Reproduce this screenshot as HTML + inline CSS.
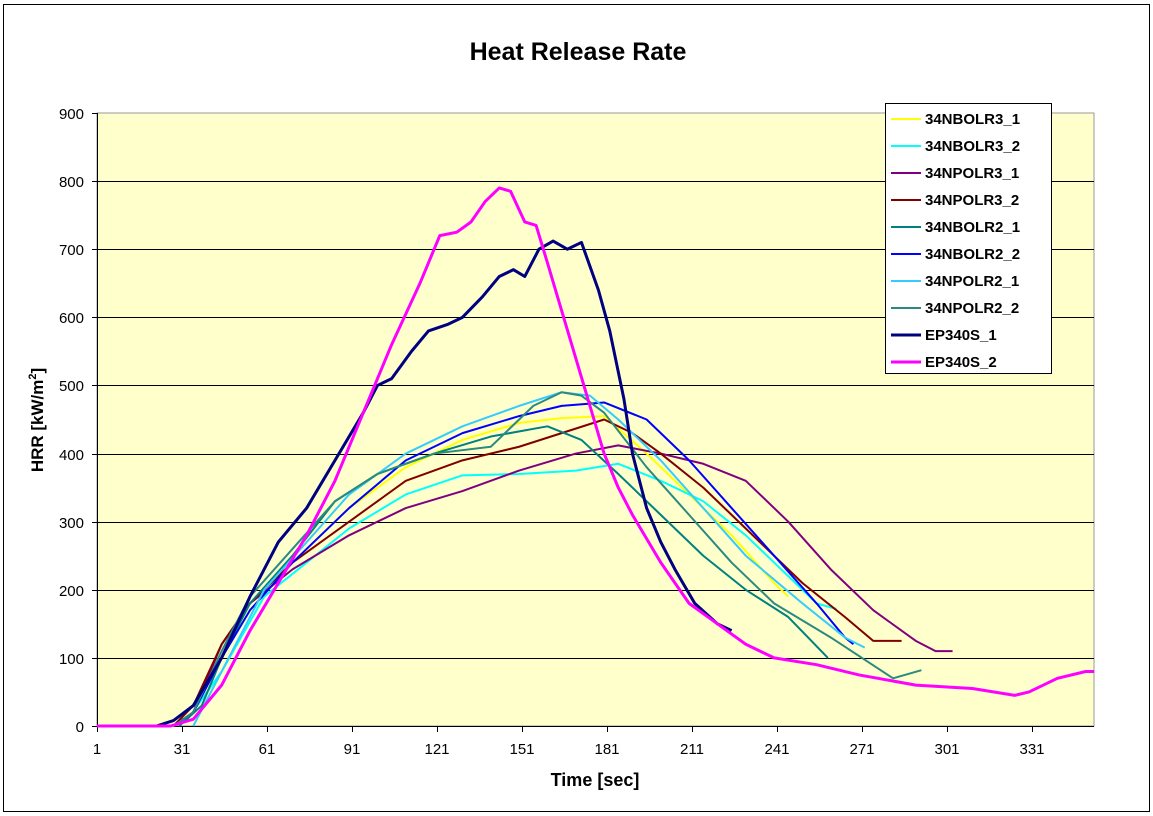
<!DOCTYPE html>
<html><head><style>
body{margin:0;background:#fff;}
svg{display:block;font-family:"Liberation Sans",Arial,sans-serif;}
</style></head><body>
<svg width="1153" height="816" viewBox="0 0 1153 816">
<rect x="0" y="0" width="1153" height="816" fill="#fff"/>
<rect x="3.5" y="4.5" width="1146" height="807" fill="#fff" stroke="#000" stroke-width="1"/>
<text x="578" y="60" text-anchor="middle" font-size="25" font-weight="bold">Heat Release Rate</text>
<rect x="97" y="113" width="997" height="613" fill="#ffffcc" stroke="#999" stroke-width="1"/>
<g stroke="#000" stroke-width="1">
<line x1="97" y1="181.5" x2="1094" y2="181.5"/><line x1="97" y1="249.5" x2="1094" y2="249.5"/>
<line x1="97" y1="317.5" x2="1094" y2="317.5"/><line x1="97" y1="385.5" x2="1094" y2="385.5"/>
<line x1="97" y1="454.5" x2="1094" y2="454.5"/><line x1="97" y1="522.5" x2="1094" y2="522.5"/>
<line x1="97" y1="590.5" x2="1094" y2="590.5"/><line x1="97" y1="658.5" x2="1094" y2="658.5"/>
<line x1="97.5" y1="113" x2="97.5" y2="726"/><line x1="97" y1="726.5" x2="1094" y2="726.5"/>
</g>
<g stroke="#000" stroke-width="1">
<line x1="92" y1="113.5" x2="97" y2="113.5"/><line x1="92" y1="181.5" x2="97" y2="181.5"/><line x1="92" y1="249.5" x2="97" y2="249.5"/><line x1="92" y1="317.5" x2="97" y2="317.5"/><line x1="92" y1="385.5" x2="97" y2="385.5"/><line x1="92" y1="454.5" x2="97" y2="454.5"/><line x1="92" y1="522.5" x2="97" y2="522.5"/><line x1="92" y1="590.5" x2="97" y2="590.5"/><line x1="92" y1="658.5" x2="97" y2="658.5"/><line x1="92" y1="726.5" x2="97" y2="726.5"/>
<line x1="97.5" y1="726" x2="97.5" y2="732"/><line x1="182.5" y1="726" x2="182.5" y2="732"/><line x1="267.5" y1="726" x2="267.5" y2="732"/><line x1="352.5" y1="726" x2="352.5" y2="732"/><line x1="437.5" y1="726" x2="437.5" y2="732"/><line x1="522.5" y1="726" x2="522.5" y2="732"/><line x1="607.5" y1="726" x2="607.5" y2="732"/><line x1="692.5" y1="726" x2="692.5" y2="732"/><line x1="777.5" y1="726" x2="777.5" y2="732"/><line x1="862.5" y1="726" x2="862.5" y2="732"/><line x1="947.5" y1="726" x2="947.5" y2="732"/><line x1="1032.5" y1="726" x2="1032.5" y2="732"/>
</g>
<g font-size="15" text-anchor="end">
<text x="84" y="119">900</text><text x="84" y="187">800</text><text x="84" y="255">700</text><text x="84" y="323">600</text><text x="84" y="391">500</text><text x="84" y="460">400</text><text x="84" y="528">300</text><text x="84" y="596">200</text><text x="84" y="664">100</text><text x="84" y="732">0</text>
</g>
<g font-size="15" text-anchor="middle">
<text x="97" y="754">1</text><text x="182" y="754">31</text><text x="267" y="754">61</text><text x="352" y="754">91</text><text x="437" y="754">121</text><text x="522" y="754">151</text><text x="607" y="754">181</text><text x="692" y="754">211</text><text x="777" y="754">241</text><text x="862" y="754">271</text><text x="947" y="754">301</text><text x="1032" y="754">331</text>
</g>
<text x="595" y="786" text-anchor="middle" font-size="18" font-weight="bold">Time [sec]</text>
<text transform="translate(43,420) rotate(-90)" text-anchor="middle" font-size="17" font-weight="bold">HRR [kW/m<tspan font-size="11" dy="-7">2</tspan><tspan dy="7">]</tspan></text>
<g transform="translate(94.167,726) scale(2.833,-0.6811)" fill="none" stroke-linejoin="round">
<polyline vector-effect="non-scaling-stroke" stroke="#ffff00" stroke-width="2" points="1,0 28,0 35,20 45,100 55,170 70,240 90,320 110,380 130,420 150,445 165,452 180,455 195,400 210,340 225,280 240,210 245,190"/>
<polyline vector-effect="non-scaling-stroke" stroke="#00ffff" stroke-width="2" points="1,0 28,0 33,10 45,80 60,190 75,240 90,290 110,340 130,368 150,370 170,375 185,385 200,360 215,330 230,280 245,220 255,180 262,172"/>
<polyline vector-effect="non-scaling-stroke" stroke="#800080" stroke-width="2" points="28,0 35,20 45,120 55,180 70,230 90,280 110,320 130,345 150,375 170,400 185,412 200,400 215,385 230,360 245,300 260,230 275,170 290,125 297,110 303,110"/>
<polyline vector-effect="non-scaling-stroke" stroke="#800000" stroke-width="2" points="28,0 35,30 45,120 55,180 70,240 90,300 110,360 130,390 150,410 165,430 180,450 190,430 200,400 215,350 230,290 250,210 265,160 275,125 285,125"/>
<polyline vector-effect="non-scaling-stroke" stroke="#008080" stroke-width="2" points="30,0 38,30 45,100 55,180 70,250 85,330 100,370 120,400 140,425 160,440 172,420 185,370 200,310 215,250 230,200 245,160 259,100"/>
<polyline vector-effect="non-scaling-stroke" stroke="#0000ff" stroke-width="2" points="28,0 35,20 45,100 55,170 70,240 90,320 110,390 130,430 150,455 165,470 180,475 195,450 210,390 225,320 240,250 255,180 265,130 268,120"/>
<polyline vector-effect="non-scaling-stroke" stroke="#33ccff" stroke-width="2" points="35,0 45,80 60,200 75,270 90,340 110,400 130,440 150,470 165,490 175,485 185,450 200,390 215,320 230,250 250,180 265,130 272,115"/>
<polyline vector-effect="non-scaling-stroke" stroke="#2a8a80" stroke-width="2" points="28,0 35,20 45,110 55,190 70,260 85,330 100,370 120,400 140,410 155,470 165,490 172,485 180,460 195,380 210,310 225,240 240,180 260,130 282,70 292,82"/>
<polyline vector-effect="non-scaling-stroke" stroke="#000080" stroke-width="3" points="1,0 22,0 28,8 35,30 45,100 55,190 65,270 75,320 85,390 95,460 100,500 105,510 112,550 118,580 125,590 130,600 137,630 143,660 148,670 152,660 157,700 162,712 167,700 172,710 178,640 182,580 187,480 190,400 195,320 200,270 205,230 212,180 220,150 225,140"/>
<polyline vector-effect="non-scaling-stroke" stroke="#ff00ff" stroke-width="3" points="1,0 27,0 35,10 45,60 55,140 65,210 75,280 85,360 95,460 105,560 115,650 122,720 128,725 133,740 138,770 143,790 147,785 152,740 156,735 160,680 165,610 170,540 175,470 180,400 185,350 190,310 200,240 210,180 220,150 230,120 240,100 255,90 270,75 290,60 310,55 325,45 330,50 340,70 350,80 353,80"/>
</g>
<rect x="885.5" y="103.5" width="166" height="270" fill="#fff" stroke="#000" stroke-width="1"/>
<g stroke-width="2">
<line x1="891" y1="119" x2="921" y2="119" stroke="#ffff00"/>
<line x1="891" y1="146" x2="921" y2="146" stroke="#00ffff"/>
<line x1="891" y1="173" x2="921" y2="173" stroke="#800080"/>
<line x1="891" y1="200" x2="921" y2="200" stroke="#800000"/>
<line x1="891" y1="227" x2="921" y2="227" stroke="#008080"/>
<line x1="891" y1="254" x2="921" y2="254" stroke="#0000ff"/>
<line x1="891" y1="281" x2="921" y2="281" stroke="#33ccff"/>
<line x1="891" y1="308" x2="921" y2="308" stroke="#2a8a80"/>
<line x1="891" y1="335" x2="921" y2="335" stroke="#000080" stroke-width="3"/>
<line x1="891" y1="362" x2="921" y2="362" stroke="#ff00ff" stroke-width="3"/>
</g>
<g font-size="15" font-weight="bold">
<text x="925" y="124">34NBOLR3_1</text><text x="925" y="151">34NBOLR3_2</text><text x="925" y="178">34NPOLR3_1</text><text x="925" y="205">34NPOLR3_2</text><text x="925" y="232">34NBOLR2_1</text><text x="925" y="259">34NBOLR2_2</text><text x="925" y="286">34NPOLR2_1</text><text x="925" y="313">34NPOLR2_2</text><text x="925" y="340">EP340S_1</text><text x="925" y="367">EP340S_2</text>
</g>
</svg>
</body></html>
